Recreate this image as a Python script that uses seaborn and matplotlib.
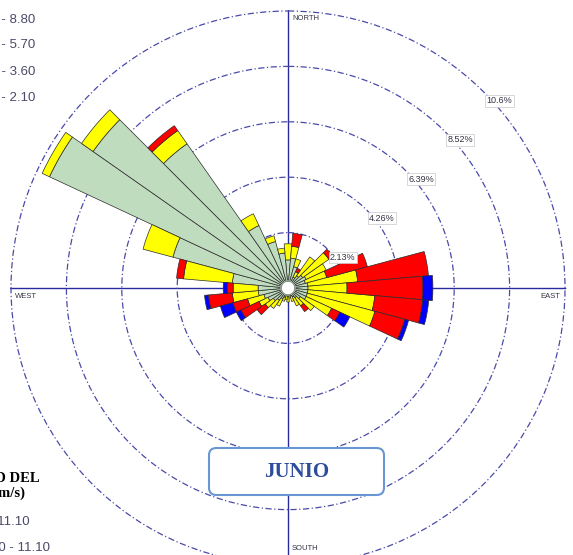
import numpy as np
import pandas as pd
import matplotlib
matplotlib.use("Agg")
import matplotlib.pyplot as plt
from matplotlib.patches import FancyBboxPatch
import seaborn as sns

# Wind directions (degrees from north, clockwise), 10-degree sectors
directions = list(range(0, 360, 10))

# Frequency (%) per direction and wind-speed class (m/s)
speed_bins = ["0.50 - 2.10", "2.10 - 3.60", "3.60 - 5.70", "5.70 - 8.80"]
freq_050_210 = [1.08, 1.15, 0.85, 0.46, 0.58, 0.69, 0.77, 0.69, 0.77, 0.77, 0.77, 0.77,
                0.77, 0.58, 0.46, 0.38, 0.31, 0.31, 0.31, 0.31, 0.38, 0.46, 0.58, 0.69,
                0.85, 0.96, 1.15, 1.15, 2.15, 4.58, 10.12, 9.15, 6.77, 2.65, 1.85, 1.35]
freq_210_360 = [0.62, 0.46, 0.31, 0.23, 0.88, 1.23, 0.85, 0.85, 1.92, 1.50, 2.58, 2.69,
                1.08, 0.65, 0.38, 0.38, 0.23, 0.08, 0.23, 0.15, 0.15, 0.31, 0.38, 0.38,
                0.38, 0.65, 1.00, 0.96, 1.88, 1.19, 0.31, 0.54, 0.62, 0.50, 0.23, 0.19]
freq_360_570 = [0.00, 0.50, 0.00, 0.15, 0.00, 0.19, 0.00, 1.62, 2.73, 2.92, 1.85, 1.19,
                0.35, 0.00, 0.27, 0.00, 0.00, 0.00, 0.00, 0.00, 0.00, 0.00, 0.00, 0.38,
                0.77, 0.58, 0.92, 0.23, 0.27, 0.00, 0.00, 0.00, 0.23, 0.00, 0.00, 0.00]
freq_570_880 = [0.00, 0.00, 0.00, 0.00, 0.00, 0.00, 0.00, 0.00, 0.00, 0.38, 0.23, 0.15,
                0.42, 0.00, 0.00, 0.00, 0.00, 0.00, 0.00, 0.00, 0.00, 0.00, 0.00, 0.00,
                0.19, 0.50, 0.15, 0.15, 0.00, 0.00, 0.00, 0.00, 0.00, 0.00, 0.00, 0.00]

bin_colors = ["#bfdcbf", "#ffff00", "#ff0000", "#0000ff"]

rings = [2.13, 4.26, 6.39, 8.52, 10.65]
ring_labels = ["2.13%", "4.26%", "6.39%", "8.52%", "10.6%"]

title = "JUNIO"

# ---------------------------------------------------------------------------
df = pd.DataFrame({"direction": directions,
                   speed_bins[0]: freq_050_210,
                   speed_bins[1]: freq_210_360,
                   speed_bins[2]: freq_360_570,
                   speed_bins[3]: freq_570_880})

sns.set_theme(style="white")
plt.rcParams["font.family"] = ["Liberation Sans", "DejaVu Sans"]
palette = sns.color_palette(bin_colors)

W, H = 573, 555
fig = plt.figure(figsize=(W / 100, H / 100), dpi=100)
fig.patch.set_facecolor("white")

cx, cy = 288, 288          # rose centre (pixels from top-left)
rmax = 10.7
R_px = 277 * rmax / rings[-1]
ax = fig.add_axes([(cx - R_px) / W, 1 - (cy + R_px) / H, 2 * R_px / W, 2 * R_px / H],
                  projection="polar")
ax.set_theta_zero_location("N")
ax.set_theta_direction(-1)
ax.set_ylim(0, rmax)
ax.set_facecolor("white")
ax.spines["polar"].set_visible(False)
ax.set_axisbelow(True)

ax.set_yticks(rings)
ax.set_yticklabels([])
ax.set_xticks(np.deg2rad([0, 90, 180, 270]))
ax.set_xticklabels([])
ax.grid(axis="y", color="#4a4aa8", linestyle=(0, (5, 2, 1, 2)), linewidth=0.9)
ax.grid(axis="x", color="#2a2aa0", linestyle="-", linewidth=1.0)

# stacked sector bars
theta = np.deg2rad(df["direction"].to_numpy())
width = np.deg2rad(10)
bottom = np.zeros(len(df))
for name, col in zip(speed_bins, palette):
    vals = df[name].to_numpy()
    m = vals > 0
    ax.bar(theta[m], vals[m], width=width, bottom=bottom[m], color=col,
           edgecolor="#2b2b2b", linewidth=0.5, zorder=3)
    bottom = bottom + vals

# calm circle in the middle
t = np.linspace(0, 2 * np.pi, 120)
ax.fill(t, np.full_like(t, 0.26), color="white", zorder=5)
ax.plot(t, np.full_like(t, 0.26), color="#7f907f", lw=0.8, zorder=6)

# ring labels
for r, lab in zip(rings, ring_labels):
    ax.annotate(lab, xy=(np.deg2rad(45), r), xytext=(2, -3), textcoords="offset points",
                ha="left", va="top", fontsize=6.5, color="#333344", zorder=8,
                bbox=dict(boxstyle="square,pad=0.15", fc="white", ec="#c8c8c8", lw=0.5))

# compass labels
def px(x, y):
    return x / W, 1 - y / H

lab_kw = dict(fontsize=5.5, color="#333344")
fig.text(*px(292, 18), "NORTH", ha="left", va="center", **lab_kw)
fig.text(*px(292, 548), "SOUTH", ha="left", va="center", **lab_kw)
fig.text(*px(15, 296), "WEST", ha="left", va="center", **lab_kw)
fig.text(*px(560, 296), "EAST", ha="right", va="center", **lab_kw)

# legend labels (speed classes)
leg_kw = dict(fontsize=9.5, color="#4a4a6a", ha="right", va="center")
fig.text(*px(35, 20), "5.70 - 8.80", **leg_kw)
fig.text(*px(35, 45), "3.60 - 5.70", **leg_kw)
fig.text(*px(35, 72), "2.10 - 3.60", **leg_kw)
fig.text(*px(35, 98), "0.50 - 2.10", **leg_kw)
fig.text(*px(30, 522), ">= 11.10", **leg_kw)
fig.text(*px(50, 548), "8.80 - 11.10", **leg_kw)
fig.text(*px(40, 478), "VELOCIDAD DEL", ha="right", va="center",
         fontsize=10.5, fontweight="bold", color="black",
         family=["Liberation Serif", "DejaVu Serif"])
fig.text(*px(25, 493), "VIENTO (m/s)", ha="right", va="center",
         fontsize=10.5, fontweight="bold", color="black",
         family=["Liberation Serif", "DejaVu Serif"])

# month box
box = FancyBboxPatch(px(209, 495), 175 / W, 47 / H,
                     boxstyle="round,pad=0,rounding_size=0.013",
                     transform=fig.transFigure, fc="white", ec="#6a96d4", lw=1.5,
                     zorder=10)
fig.patches.append(box)
fig.text(*px(296.5, 472), title, ha="center", va="center", fontsize=15,
         fontweight="bold", color="#2d4c9c", zorder=11,
         family=["Liberation Serif", "DejaVu Serif"])

fig.savefig("out.png", dpi=100)
